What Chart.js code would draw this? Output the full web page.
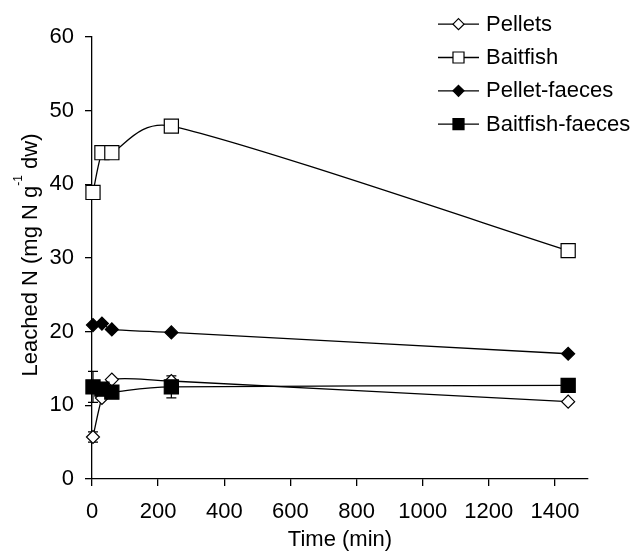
<!DOCTYPE html>
<html>
<head>
<meta charset="utf-8">
<script src="https://cdn.jsdelivr.net/npm/chart.js@4/dist/chart.umd.min.js"></script>
<style>
html,body{margin:0;padding:0;background:#fff;}
#wrap{width:632px;height:559px;position:relative;}
</style>
</head>
<body>
<div id="wrap"><canvas id="c" width="632" height="559"></canvas></div>
<script>
// ---- data ----
const times = [3, 30, 60, 240, 1440];
const seriesNames = ['Pellets', 'Baitfish', 'Pellet-faeces', 'Baitfish-faeces'];
const pellets = [5.7, 11.0, 13.5, 13.3, 10.5];
const baitfish = [38.9, 44.3, 44.3, 47.9, 31.0];
const pelletFaeces = [20.9, 21.1, 20.3, 19.9, 17.0];
const baitfishFaeces = [12.5, 12.2, 11.8, 12.5, 12.7];
const pelletsErr = [0.7, 0, 0, 0, 0];
const baitfishErr = [0, 0, 0, 0, 0];
const pelletFaecesErr = [0, 0, 0, 0, 0];
const baitfishFaecesErr = [2.1, 0, 0, 1.5, 0];
const xTicks = [0, 200, 400, 600, 800, 1000, 1200, 1400];
const yTicks = [0, 10, 20, 30, 40, 50, 60];
const xTitle = 'Time (min)';
const yTitleParts = ['Leached N (mg N g', '-1', ' dw)'];

const FONT = "'Liberation Sans', Arial, sans-serif";
const FS = 22;
const pts = v => times.map((t, i) => ({x: t, y: v[i]}));

const styles = [
  {pointStyle: 'rectRot', fill: '#ffffff', r: 6.5, lr: 5.5},
  {pointStyle: 'rect', fill: '#ffffff', r: 10, lr: 7.8},
  {pointStyle: 'rectRot', fill: '#000000', r: 6.5, lr: 5.5},
  {pointStyle: 'rect', fill: '#000000', r: 10, lr: 7.8}
];
const values = [pellets, baitfish, pelletFaeces, baitfishFaeces];
const errs = [pelletsErr, baitfishErr, pelletFaecesErr, baitfishFaecesErr];

const datasets = values.map((v, i) => ({
  label: seriesNames[i],
  data: pts(v),
  errors: errs[i],
  borderColor: '#000',
  borderWidth: 1.3,
  tension: 0.3,
  pointStyle: styles[i].pointStyle,
  pointRadius: styles[i].r,
  pointHoverRadius: styles[i].r,
  pointBackgroundColor: styles[i].fill,
  pointBorderColor: '#000',
  pointBorderWidth: 1.2,
  fill: false,
  order: 3 - i,
  clip: false
}));

function drawMarker(ctx, style, x, y, r, fillC) {
  ctx.save();
  ctx.beginPath();
  if (style === 'rect') {
    const s = r * Math.SQRT1_2;
    ctx.rect(x - s, y - s, 2 * s, 2 * s);
  } else {
    ctx.moveTo(x, y - r); ctx.lineTo(x + r, y); ctx.lineTo(x, y + r); ctx.lineTo(x - r, y); ctx.closePath();
  }
  ctx.fillStyle = fillC; ctx.fill();
  ctx.strokeStyle = '#000'; ctx.lineWidth = 1.2; ctx.stroke();
  ctx.restore();
}

// Excel-like smoothing: uniform Catmull-Rom tangents, limited by segment length
function excelSmooth(chart) {
  chart.data.datasets.forEach((ds, di) => {
    const meta = chart.getDatasetMeta(di);
    if (!meta || !meta.dataset) return;
    meta.dataset.updateControlPoints(chart.chartArea, 'x');
    const p = meta.data;
    const n = p.length;
    for (let i = 0; i < n; i++) {
      const prev = p[Math.max(0, i - 1)], next = p[Math.min(n - 1, i + 1)];
      let tx = (next.x - prev.x) / 6, ty = (next.y - prev.y) / 6;
      const tl = Math.hypot(tx, ty) || 1;
      const dPrev = i > 0 ? Math.hypot(p[i].x - p[i - 1].x, p[i].y - p[i - 1].y) : 0;
      const dNext = i < n - 1 ? Math.hypot(p[i + 1].x - p[i].x, p[i + 1].y - p[i].y) : 0;
      const kb = Math.min(1, 0.5 * dPrev / tl);
      const kf = Math.min(1, 0.5 * dNext / tl);
      p[i].cp1x = p[i].x - tx * kb; p[i].cp1y = p[i].y - ty * kb;
      p[i].cp2x = p[i].x + tx * kf; p[i].cp2y = p[i].y + ty * kf;
    }
  });
}

const customPlugin = {
  id: 'custom',
  beforeDatasetsDraw(chart) {
    excelSmooth(chart);
    const ctx = chart.ctx, xs = chart.scales.x, ys = chart.scales.y;
    ctx.save();
    ctx.strokeStyle = '#000'; ctx.lineWidth = 1.2;
    chart.data.datasets.forEach(ds => {
      ds.data.forEach((pt, i) => {
        const e = ds.errors[i];
        if (!e) return;
        const px = xs.getPixelForValue(pt.x);
        const y1 = ys.getPixelForValue(pt.y + e), y2 = ys.getPixelForValue(pt.y - e);
        ctx.beginPath();
        ctx.moveTo(px, y1); ctx.lineTo(px, y2);
        ctx.moveTo(px - 5, y1); ctx.lineTo(px + 5, y1);
        ctx.moveTo(px - 5, y2); ctx.lineTo(px + 5, y2);
        ctx.stroke();
      });
    });
    ctx.restore();
  },
  afterDraw(chart) {
    const ctx = chart.ctx, area = chart.chartArea;
    ctx.save();
    ctx.fillStyle = '#000';
    // x title
    ctx.font = FS + 'px ' + FONT;
    ctx.textAlign = 'center';
    ctx.textBaseline = 'alphabetic';
    ctx.fillText(xTitle, (area.left + area.right) / 2, 546);
    // y title with superscript
    const mainFont = FS + 'px ' + FONT, supFont = '12px ' + FONT;
    ctx.font = mainFont;
    const w1 = ctx.measureText(yTitleParts[0]).width;
    const w3 = ctx.measureText(yTitleParts[2]).width;
    ctx.font = supFont;
    const w2 = ctx.measureText(yTitleParts[1]).width;
    const total = w1 + w2 + w3;
    const cy = 255;
    ctx.translate(36.5, cy + total / 2);
    ctx.rotate(-Math.PI / 2);
    ctx.textAlign = 'left';
    ctx.font = mainFont;
    ctx.fillText(yTitleParts[0], 0, 0);
    ctx.font = supFont;
    ctx.fillText(yTitleParts[1], w1, -15);
    ctx.font = mainFont;
    ctx.fillText(yTitleParts[2], w1 + w2, 0);
    ctx.restore();
    // legend
    ctx.save();
    ctx.font = FS + 'px ' + FONT;
    ctx.textAlign = 'left';
    ctx.textBaseline = 'alphabetic';
    chart.data.datasets.forEach((ds, i) => {
      const base = 30.7 + i * 33.3;
      const ly = base - 6.5;
      ctx.strokeStyle = '#000'; ctx.lineWidth = 1.3;
      ctx.beginPath(); ctx.moveTo(438, ly); ctx.lineTo(479, ly); ctx.stroke();
      drawMarker(ctx, styles[i].pointStyle, 458.5, ly, styles[i].lr, styles[i].fill);
      ctx.fillStyle = '#000';
      ctx.fillText(ds.label, 486, base);
    });
    ctx.restore();
  }
};

new Chart(document.getElementById('c'), {
  type: 'line',
  data: {datasets},
  options: {
    responsive: false,
    animation: false,
    devicePixelRatio: 1,
    layout: {padding: {top: 37, right: 44, left: 0, bottom: 0}},
    plugins: {legend: {display: false}, tooltip: {enabled: false}, title: {display: false}},
    scales: {
      x: {
        type: 'linear',
        min: 0, max: 1500,
        afterFit(s) { s.height = 80; },
        afterBuildTicks(s) { s.ticks = xTicks.map(v => ({value: v})); },
        grid: {display: true, drawOnChartArea: false, drawTicks: true, tickLength: 7, color: '#000', lineWidth: 1.3},
        border: {display: true, color: '#000', width: 1.3},
        ticks: {color: '#000', font: {family: FONT, size: FS}, padding: 13, maxRotation: 0, autoSkip: false,
                callback: v => String(v)}
      },
      y: {
        type: 'linear',
        min: 0, max: 60,
        afterFit(s) { s.width = 92; },
        afterBuildTicks(s) { s.ticks = yTicks.map(v => ({value: v})); },
        grid: {display: true, drawOnChartArea: false, drawTicks: true, tickLength: 7, color: '#000', lineWidth: 1.3},
        border: {display: true, color: '#000', width: 1.3},
        ticks: {color: '#000', font: {family: FONT, size: FS}, padding: 11, autoSkip: false,
                callback: v => String(v)}
      }
    }
  },
  plugins: [customPlugin]
});
</script>
</body>
</html>
